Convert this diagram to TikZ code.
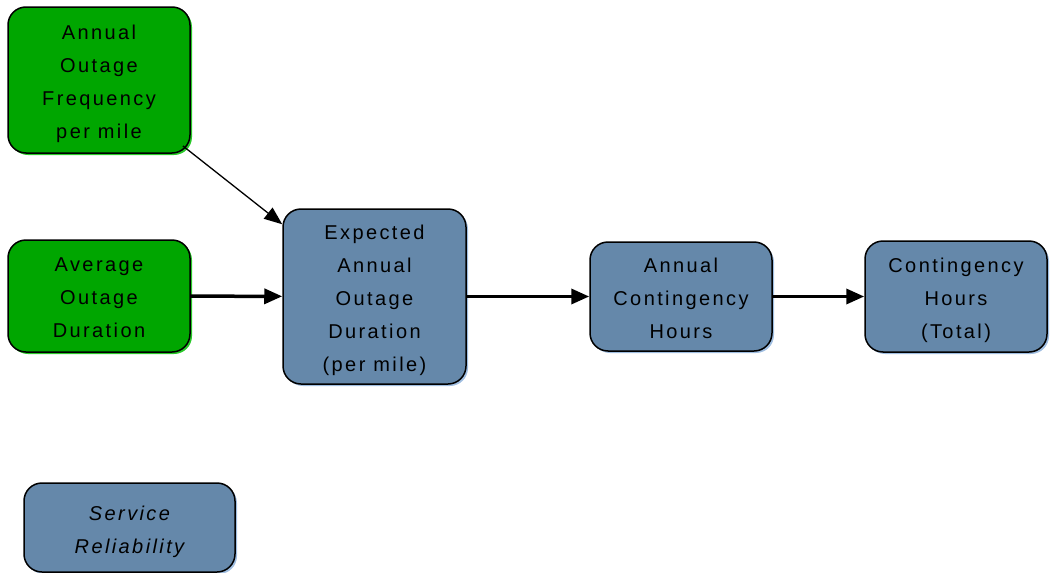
\documentclass[tikz,border=0pt]{standalone}
\usepackage{fontspec}
\setmainfont{Liberation Sans}[LetterSpace=12]
\usetikzlibrary{arrows.meta}
\usetikzlibrary{shadows}

\definecolor{inputgreen}{RGB}{0,166,0}
\definecolor{shadegreen}{RGB}{40,200,40}
\definecolor{calcblue}{RGB}{101,136,170}
\definecolor{shadeblue}{RGB}{160,190,225}

\begin{document}
\begin{tikzpicture}[x=1pt, y=-1pt,
  var/.style={draw=black, line width=1.5pt, rounded corners=18pt, inner sep=0pt, minimum width=182pt},
  input/.style={var, fill=inputgreen,
    drop shadow={shadow xshift=2pt, shadow yshift=-2pt, fill=shadegreen, opacity=1}},
  calc/.style={var, fill=calcblue,
    drop shadow={shadow xshift=2pt, shadow yshift=-2pt, fill=shadeblue, opacity=1}},
  txt/.style={align=center, inner sep=0pt, font=\fontsize{20}{33}\selectfont, text depth=0pt, yshift=-2pt},
  link/.style={-{Triangle[length=18pt,width=15pt]}, line width=3.5pt},
  thinlink/.style={-{Triangle[length=18pt,width=14pt]}, line width=1.3pt}]
\useasboundingbox (0,0) rectangle (1053,573);

% inputs
\node[input, minimum height=146pt,
  label={[txt]center:{Annual\\Outage\\Frequency\\per mile}}] (freq) at (99,80) {};
\node[input, minimum height=112pt,
  label={[txt]center:{Average\\Outage\\Duration}}] (dur) at (99,296) {};

% calculated values
\node[calc, minimum width=183pt, minimum height=175pt,
  label={[txt]center:{Expected\\Annual\\Outage\\Duration\\(per mile)}}] (expdur) at (374.5,296.5) {};
\node[calc, minimum height=109pt,
  label={[txt]center:{Annual\\Contingency\\Hours}}] (conthrs) at (681,296.5) {};
\node[calc, minimum height=111pt,
  label={[txt]center:{Contingency\\Hours\\(Total)}}] (total) at (956,296.5) {};

% module
\node[calc, minimum width=211pt, minimum height=89pt,
  label={[txt, font=\fontsize{20}{33}\selectfont\itshape]center:{Service\\Reliability}}] (reliab) at (129.5,527.5) {};

\draw[thinlink, shorten <=-10pt] (freq) -- (expdur);
\draw[link] (dur) -- (expdur);
\draw[link] (expdur) -- (conthrs);
\draw[link] (conthrs) -- (total);

\end{tikzpicture}
\end{document}
